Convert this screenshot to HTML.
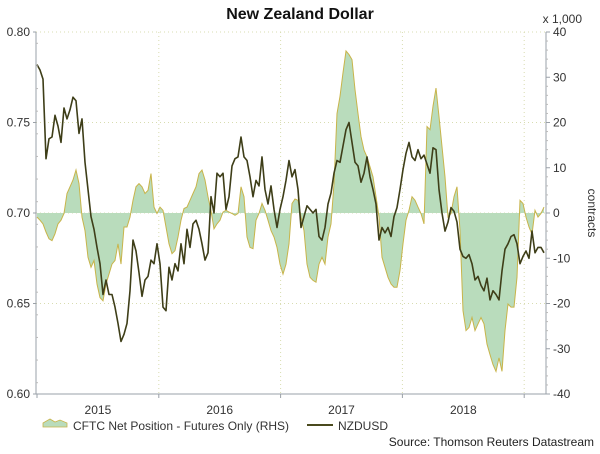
<!DOCTYPE html>
<html><head><meta charset="utf-8"><style>
html,body{margin:0;padding:0;background:#fff;}
svg{display:block;font-family:"Liberation Sans",Arial,sans-serif;}
</style></head><body>
<svg id="chart" width="600" height="454" viewBox="0 0 600 454">
<text x="300" y="19" text-anchor="middle" font-size="16" font-weight="bold" fill="#111">New Zealand Dollar</text>
<text x="582" y="23" text-anchor="end" font-size="12" fill="#333">x 1,000</text>
<text transform="translate(588,213) rotate(90)" text-anchor="middle" font-size="12" fill="#333">contracts</text>
<g id="grid"></g>
<g id="area"></g>
<g id="line"></g>
<g id="axes"></g>
<g>
<g>
<path d="M43,423 L50,419 L55,422 L60,420 L67,423 L67,427 L43,427 Z" fill="#b9dcbc" stroke="#c8b44a" stroke-width="0.8"/>
<text x="73" y="430" font-size="12" fill="#333">CFTC Net Position - Futures Only (RHS)</text>
</g>
<g>
<line x1="307" y1="425" x2="333" y2="425" stroke="#4a4a1e" stroke-width="2"/>
<text x="338" y="430" font-size="12" fill="#333">NZDUSD</text>
</g>
</g>
<text x="594" y="446" text-anchor="end" font-size="12" fill="#222">Source: Thomson Reuters Datastream</text>
</svg>
<script>
const leftTicks = [0.80, 0.75, 0.70, 0.65, 0.60];
const rightTicks = [40, 30, 20, 10, 0, -10, -20, -30, -40];
const yearLabels = ["2015", "2016", "2017", "2018"];
const nzdusd = [0.782,0.779,0.774,0.730,0.741,0.742,0.754,0.748,0.739,0.758,0.752,0.757,0.764,0.762,0.744,0.752,0.728,0.713,0.698,0.691,0.681,0.672,0.655,0.663,0.655,0.655,0.648,0.639,0.629,0.633,0.639,0.657,0.685,0.679,0.667,0.654,0.663,0.665,0.674,0.672,0.683,0.672,0.648,0.646,0.670,0.663,0.672,0.668,0.683,0.672,0.691,0.681,0.694,0.696,0.691,0.683,0.674,0.678,0.709,0.700,0.722,0.720,0.722,0.702,0.709,0.726,0.730,0.731,0.742,0.731,0.729,0.720,0.709,0.718,0.715,0.731,0.713,0.705,0.715,0.702,0.692,0.702,0.709,0.718,0.729,0.720,0.724,0.713,0.692,0.698,0.704,0.702,0.700,0.702,0.687,0.685,0.692,0.705,0.711,0.722,0.729,0.728,0.737,0.746,0.750,0.739,0.728,0.726,0.717,0.722,0.731,0.720,0.713,0.705,0.685,0.692,0.689,0.692,0.687,0.698,0.703,0.713,0.724,0.733,0.739,0.731,0.729,0.735,0.730,0.732,0.727,0.722,0.736,0.735,0.713,0.700,0.690,0.695,0.703,0.701,0.695,0.680,0.676,0.675,0.677,0.672,0.663,0.665,0.660,0.657,0.664,0.652,0.657,0.655,0.652,0.668,0.680,0.683,0.687,0.688,0.683,0.672,0.676,0.679,0.675,0.690,0.678,0.681,0.681,0.678];
const cftc = [-0.9,-1.6,-2.4,-4.2,-5.7,-6.1,-4.6,-2.4,-1.6,-0.1,4.3,5.8,7.3,9.5,6.5,-0.9,-3.9,-9.8,-12,-10.5,-15.7,-18.7,-19.4,-15.7,-13.5,-11.3,-10.5,-6.8,-11.3,-3.1,-3.1,-0.9,2.8,5.8,6.5,5.8,4.3,5.0,8.7,1.3,-0.1,1.3,0.6,-3.1,-6.8,-9.0,-8.3,-5.3,-1.6,1.0,1.3,2.8,4.3,5.8,8.7,9.5,7.3,3.6,0.5,-3.5,-2.4,-1.6,0.2,0.6,0.2,-0.1,-0.5,-0.1,5.8,3.6,-5.3,-7.6,-7.9,-1.6,-0.1,2.1,0.6,-1.6,-3.9,-5.3,-7.6,-11.3,-13.5,-11.3,-6.8,2.1,3.1,2.8,-0.9,-3.9,-11.3,-14.2,-14.9,-15.3,-11.3,-9.8,-11.3,-5.3,-2.4,6.5,22,25.8,31,35.8,35,33.9,27.3,22,16.9,13.9,12.4,10.2,8.0,3.6,-0.9,-9.8,-12,-14.2,-15.7,-16.4,-16.4,-12.7,-6.8,-1.6,0.6,3.6,2.8,1.3,-0.1,-2.4,19.1,18.4,23.6,27.6,21.3,14.7,8.0,-0.9,-0.1,3.6,5.8,-3.9,-21.6,-26,-25.3,-23.1,-26,-24.5,-23.1,-24.5,-29,-31.3,-33.5,-35,-32,-35,-26,-20.1,-20.8,-20.8,-14.2,2.8,2.1,-0.9,-3.1,-4.7,0.6,-0.9,-0.1,1.3];

const NS = "http://www.w3.org/2000/svg";
const X0 = 36, X1 = 546, YT = 32, YB = 394;
const yearPx = 121.8, yearOrigin = 37;
function xIdx(i, n){ return 37 + i * (544 - 37) / (n - 1); }
function yL(v){ return YT + (0.80 - v) / 0.20 * (YB - YT); }
function yR(v){ return YT + (40 - v) / 80 * (YB - YT); }
function xYear(k){ return yearOrigin + k * yearPx; }
function mk(tag, attrs, parent){ const e = document.createElementNS(NS, tag); for (const k in attrs) e.setAttribute(k, attrs[k]); parent.appendChild(e); return e; }

const grid = document.getElementById('grid');
[0.75, 0.70, 0.65].forEach(v => {
  const l = mk('line', {x1: X0, x2: X1, y1: yL(v), y2: yL(v), stroke: '#d8dcb0', 'stroke-width': 1, 'stroke-dasharray': '1,3'}, grid);
  
  
});
mk('line', {x1: X0, x2: X1, y1: YT, y2: YT, stroke: '#d8dcb0', 'stroke-width': 1, 'stroke-dasharray': '1,3'}, grid);
for (let k = 1; k <= 4; k++) {
  const l = mk('line', {x1: xYear(k), x2: xYear(k), y1: YT, y2: YB, stroke: '#d8dcb0', 'stroke-width': 1, 'stroke-dasharray': '1,3'}, grid);
  
  
}

const areaG = document.getElementById('area');
const n2 = cftc.length;
let d = `M${xIdx(0, n2)},${yR(0)}`;
cftc.forEach((v, i) => { d += ` L${xIdx(i, n2).toFixed(1)},${yR(v).toFixed(1)}`; });
d += ` L${xIdx(n2 - 1, n2)},${yR(0)} Z`;
const ap = mk('path', {d: d, fill: '#b9dcbc', stroke: 'none'}, areaG);


let d2 = '';
cftc.forEach((v, i) => { d2 += (i ? ' L' : 'M') + xIdx(i, n2).toFixed(1) + ',' + yR(v).toFixed(1); });
const ae = mk('path', {d: d2, fill: 'none', stroke: '#c8b44a', 'stroke-width': 1}, areaG);



const lineG = document.getElementById('line');
const n1 = nzdusd.length;
let d3 = '';
nzdusd.forEach((v, i) => { d3 += (i ? ' L' : 'M') + xIdx(i, n1).toFixed(1) + ',' + yL(v).toFixed(1); });
const lp = mk('path', {d: d3, fill: 'none', stroke: '#3e3e18', 'stroke-width': 1.6, 'stroke-linejoin': 'round'}, lineG);



const axes = document.getElementById('axes');
mk('line', {x1: X0, x2: X0, y1: YT, y2: YB, stroke: '#9aa0a8', 'stroke-width': 1}, axes);
mk('line', {x1: X1, x2: X1, y1: YT, y2: YB, stroke: '#9aa0a8', 'stroke-width': 1}, axes);
mk('line', {x1: X0, x2: X1, y1: YB, y2: YB, stroke: '#9aa0a8', 'stroke-width': 1}, axes);
leftTicks.forEach(v => {
  mk('line', {x1: X0 - 3, x2: X0, y1: yL(v), y2: yL(v), stroke: '#9aa0a8'}, axes);
  const t = mk('text', {x: X0 - 6, y: yL(v) + 4, 'text-anchor': 'end', 'font-size': 12, fill: '#333'}, axes);
  t.textContent = v.toFixed(2);
  
  
});
for (let k = 0; k < 16; k++) {
  const v = 0.80 - k * 0.0125 - 0.00625;
  if (v > 0.6) mk('line', {x1: X0, x2: X0 + 2, y1: yL(v), y2: yL(v), stroke: '#bbb'}, axes);
}
rightTicks.forEach(v => {
  mk('line', {x1: X1, x2: X1 + 4, y1: yR(v), y2: yR(v), stroke: '#9aa0a8'}, axes);
  const t = mk('text', {x: X1 + 7, y: yR(v) + 4, 'text-anchor': 'start', 'font-size': 12, fill: '#333'}, axes);
  t.textContent = String(v);
  
  
});
for (let v = 38; v > -40; v -= 2) {
  if (v % 10 !== 0) mk('line', {x1: X1, x2: X1 + 2, y1: yR(v), y2: yR(v), stroke: '#bbb'}, axes);
}
for (let k = 0; k <= 4; k++) {
  mk('line', {x1: xYear(k), x2: xYear(k), y1: YB, y2: YB + 4, stroke: '#9aa0a8'}, axes);
}
yearLabels.forEach((lab, k) => {
  const t = mk('text', {x: xYear(k) + yearPx / 2, y: YB + 20, 'text-anchor': 'middle', 'font-size': 12, fill: '#333'}, axes);
  t.textContent = lab;
  
  
});
</script>
</body></html>
